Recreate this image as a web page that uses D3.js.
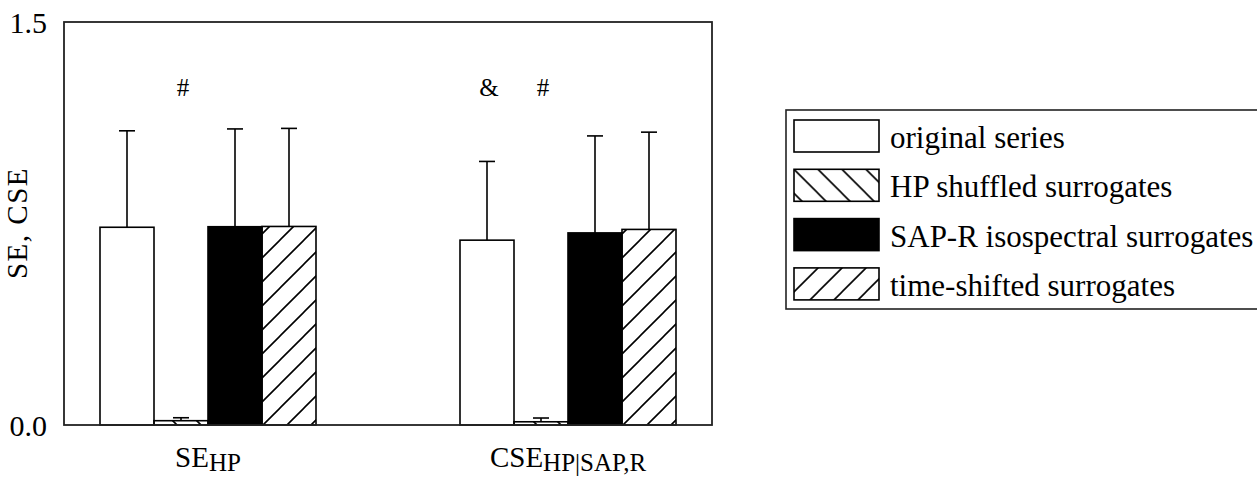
<!DOCTYPE html>
<html>
<head>
<meta charset="utf-8">
<script src="https://cdn.jsdelivr.net/npm/d3@7"></script>
<style>
  body { margin: 0; background: #fff; }
  svg text { font-family: "Liberation Serif", "Times New Roman", serif; fill: #000; }
</style>
</head>
<body>
<script>
// categories (main text + subscript)
const categories = ['SE', 'CSE'];
const categorySubs = ['HP', 'HP|SAP,R'];

const series = ['original series', 'HP shuffled surrogates', 'SAP-R isospectral surrogates', 'time-shifted surrogates'];
const fills = ['#fff', 'url(#hatchBack)', '#000', 'url(#hatchFwd)'];

// mean values per series, one entry per category
const original = [0.736, 0.688];
const shuffled = [0.016, 0.012];
const isospectral = [0.738, 0.715];
const timeShifted = [0.739, 0.728];

// upper error (SD) per series
const originalErr = [0.359, 0.293];
const shuffledErr = [0.011, 0.014];
const isospectralErr = [0.364, 0.361];
const timeShiftedErr = [0.365, 0.362];

// significance marks: [category index, series index, symbol]
const marks = [[0, 1, '#'], [1, 0, '&'], [1, 1, '#']];

const yTicks = [0, 1.5];

const box = {
  width: 1257, height: 483,
  left: 64, right: 712, top: 22, bottom: 425
};

const values = [original, shuffled, isospectral, timeShifted];
const errors = [originalErr, shuffledErr, isospectralErr, timeShiftedErr];

const svg = d3.select('body').append('svg')
  .attr('width', box.width)
  .attr('height', box.height);

const defs = svg.append('defs');
const hs = 24;
defs.append('pattern')
  .attr('id', 'hatchFwd')
  .attr('patternUnits', 'userSpaceOnUse')
  .attr('width', hs).attr('height', hs)
  .append('path')
  .attr('d', `M0,${hs} L${hs},0 M${-hs/2},${hs/2} L${hs/2},${-hs/2} M${hs/2},${hs*1.5} L${hs*1.5},${hs/2}`)
  .attr('stroke', '#000').attr('stroke-width', 1.6);
defs.append('pattern')
  .attr('id', 'hatchBack')
  .attr('patternUnits', 'userSpaceOnUse')
  .attr('width', hs).attr('height', hs)
  .append('path')
  .attr('d', `M0,0 L${hs},${hs} M${-hs/2},${hs/2} L${hs/2},${hs*1.5} M${hs/2},${-hs/2} L${hs*1.5},${hs/2}`)
  .attr('stroke', '#000').attr('stroke-width', 1.6);

const x0 = d3.scalePoint()
  .domain(d3.range(categories.length))
  .range([box.left, box.right])
  .padding(0.4);

const x1 = d3.scaleBand()
  .domain(d3.range(series.length))
  .range([-108, 108])
  .padding(0);

const y = d3.scaleLinear()
  .domain([0, 1.5])
  .range([box.bottom, box.top]);

// bars
const groups = svg.append('g')
  .selectAll('g')
  .data(categories.map((c, i) => i))
  .join('g')
  .attr('transform', i => `translate(${x0(i)},0)`);

groups.each(function(ci) {
  const g = d3.select(this);
  series.forEach((s, si) => {
    const v = values[si][ci];
    const e = errors[si][ci];
    const bx = x1(si);
    const cx = bx + x1.bandwidth() / 2;
    g.append('line')
      .attr('x1', cx).attr('x2', cx)
      .attr('y1', y(v)).attr('y2', y(v + e))
      .attr('stroke', '#000').attr('stroke-width', 1.6);
    g.append('line')
      .attr('x1', cx - 8).attr('x2', cx + 8)
      .attr('y1', y(v + e)).attr('y2', y(v + e))
      .attr('stroke', '#000').attr('stroke-width', 1.6);
    g.append('rect')
      .attr('x', bx)
      .attr('y', y(v))
      .attr('width', x1.bandwidth())
      .attr('height', y(0) - y(v))
      .attr('fill', fills[si])
      .attr('stroke', '#000')
      .attr('stroke-width', 1.6);
  });
});

// significance marks
svg.append('g')
  .selectAll('text')
  .data(marks)
  .join('text')
  .attr('x', d => x0(d[0]) + x1(d[1]) + x1.bandwidth() / 2 + 2)
  .attr('y', 96)
  .attr('text-anchor', 'middle')
  .attr('font-size', 25)
  .text(d => d[2]);

// frame
svg.append('rect')
  .attr('x', box.left).attr('y', box.top)
  .attr('width', box.right - box.left)
  .attr('height', box.bottom - box.top)
  .attr('fill', 'none')
  .attr('stroke', '#222')
  .attr('stroke-width', 1.8);

// y axis labels
const yAxis = d3.axisLeft(y)
  .tickValues(yTicks)
  .tickFormat(d3.format('.1f'))
  .tickSize(0)
  .tickPadding(17);
const yg = svg.append('g')
  .attr('transform', `translate(${box.left},0)`)
  .call(yAxis);
yg.select('.domain').remove();
yg.selectAll('text')
  .style('font-size', '30px')
  .attr('dy', '0.35em');

svg.append('text')
  .attr('transform', 'translate(27,223) rotate(-90)')
  .attr('text-anchor', 'middle')
  .attr('font-size', 29)
  .attr('letter-spacing', 1.5)
  .text('SE, CSE');

// x category labels
const xl = svg.append('g')
  .selectAll('text')
  .data(categories.map((c, i) => i))
  .join('text')
  .attr('x', i => x0(i))
  .attr('y', 467)
  .attr('text-anchor', 'middle')
  .attr('font-size', 29);
xl.append('tspan').text(i => categories[i]);
xl.append('tspan')
  .attr('font-size', 25)
  .attr('dy', 4)
  .text(i => categorySubs[i]);

// legend
const leg = svg.append('g').attr('transform', 'translate(786,110)');
leg.append('rect')
  .attr('x', 0).attr('y', 0)
  .attr('width', 480).attr('height', 199)
  .attr('fill', 'none')
  .attr('stroke', '#222')
  .attr('stroke-width', 1.6);
const items = leg.selectAll('g')
  .data(series)
  .join('g')
  .attr('transform', (d, i) => `translate(8,${10 + i * 49.3})`);
items.append('rect')
  .attr('width', 85).attr('height', 32)
  .attr('fill', (d, i) => fills[i])
  .attr('stroke', '#000')
  .attr('stroke-width', 1.6);
items.append('text')
  .attr('x', 96)
  .attr('y', 28)
  .attr('font-size', 31)
  .text(d => d);
</script>
</body>
</html>
